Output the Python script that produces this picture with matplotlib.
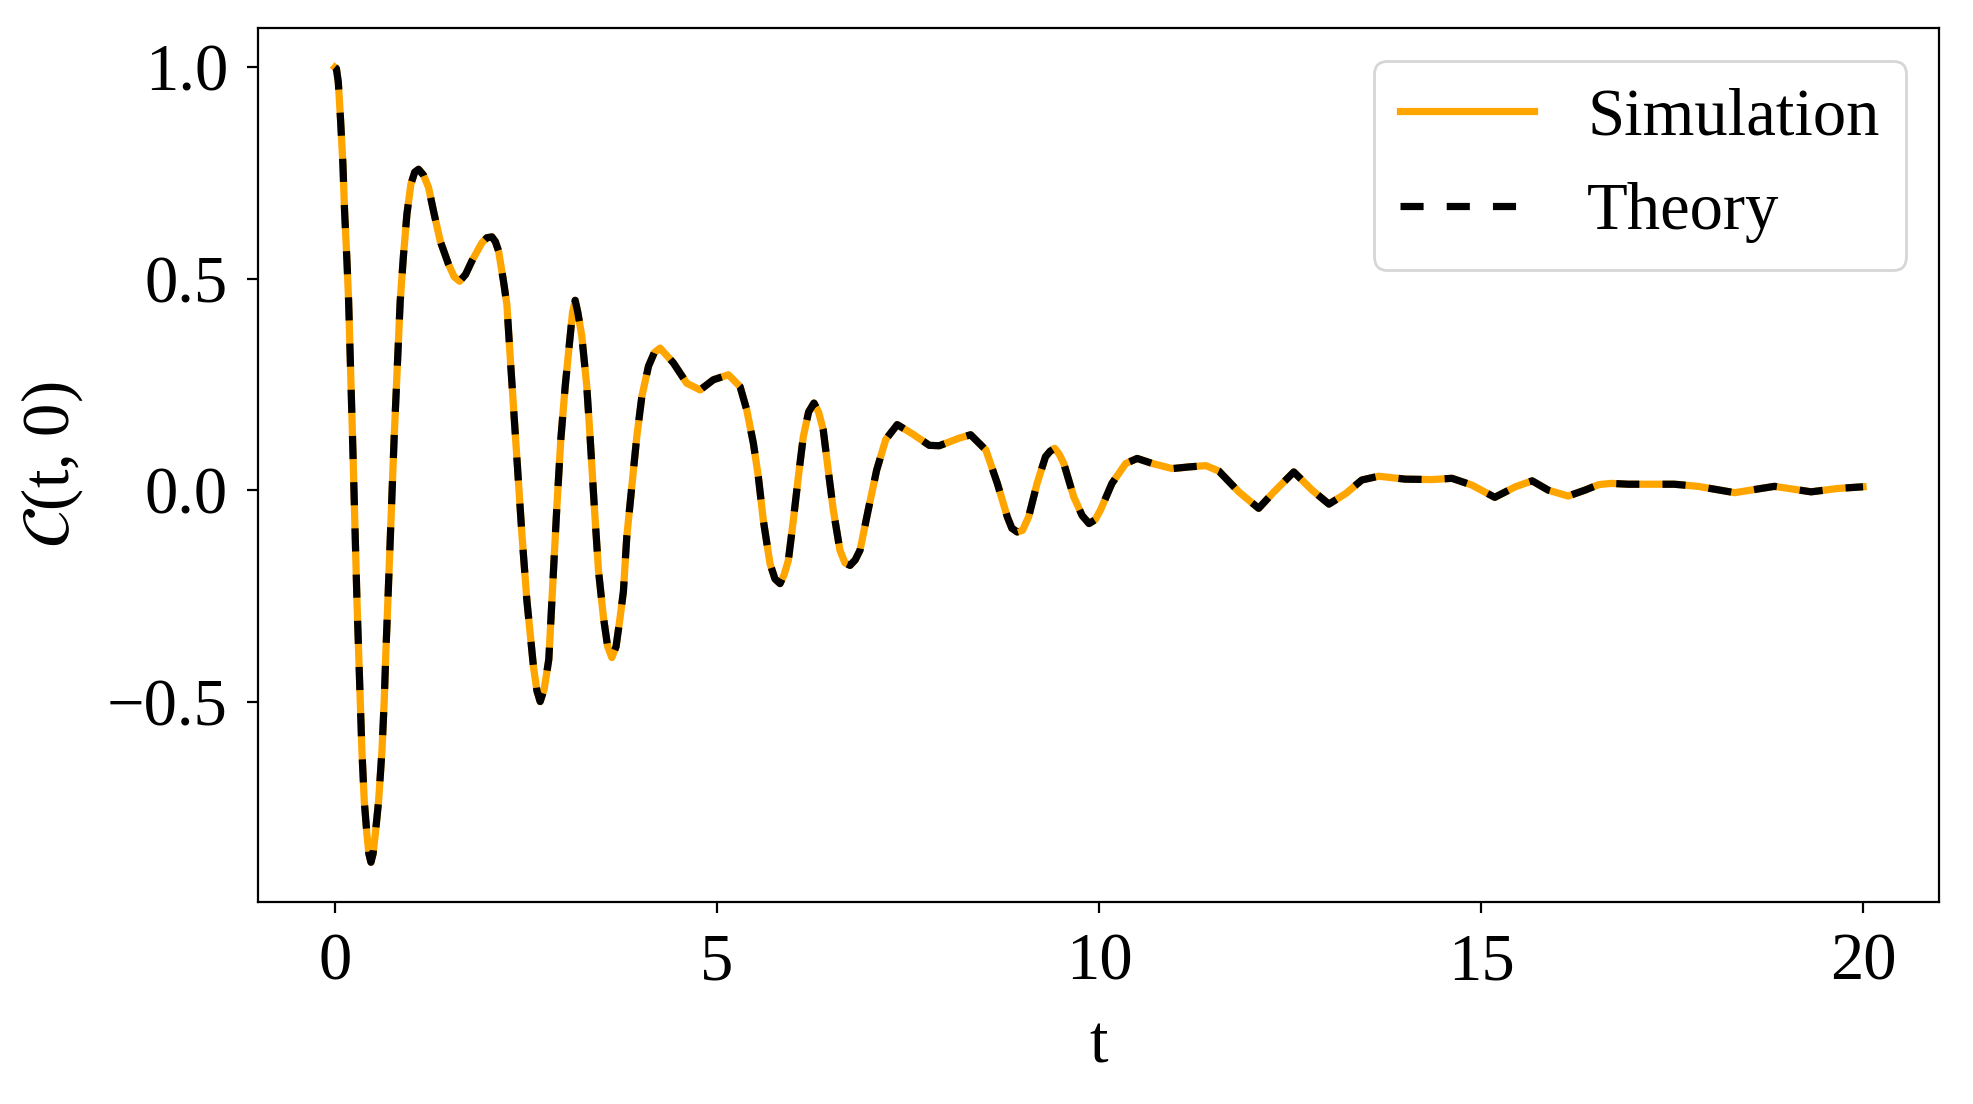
import matplotlib
matplotlib.use("Agg")
import matplotlib.pyplot as plt
import numpy as np

plt.rcParams['font.family'] = ['Liberation Serif', 'DejaVu Serif']
plt.rcParams['mathtext.fontset'] = 'stix'

# values (simulation and theory lie on top of each other)
t = [0.000, 0.020, 0.045, 0.075, 0.105, 0.127, 0.158, 0.180, 0.235, 0.289,
     0.310, 0.332, 0.354, 0.385, 0.420, 0.445, 0.472, 0.500, 0.528, 0.572,
     0.616, 0.646, 0.668, 0.694, 0.775, 0.855, 0.899, 0.943, 0.995, 1.045,
     1.095, 1.160, 1.226, 1.291, 1.379, 1.488, 1.560, 1.632, 1.710, 1.793,
     1.924, 1.990, 2.055, 2.100, 2.142, 2.207, 2.251, 2.300, 2.380, 2.450,
     2.513, 2.556, 2.600, 2.645, 2.687, 2.740, 2.800, 2.853, 2.905, 2.957,
     3.014, 3.079, 3.110, 3.145, 3.180, 3.232, 3.297, 3.340, 3.393, 3.450,
     3.515, 3.570, 3.625, 3.680, 3.733, 3.776, 3.820, 3.886, 3.951, 4.017,
     4.104, 4.180, 4.256, 4.430, 4.605, 4.780, 4.953, 5.150, 5.303, 5.390,
     5.477, 5.542, 5.607, 5.695, 5.760, 5.826, 5.880, 5.935, 6.000, 6.066,
     6.130, 6.200, 6.270, 6.330, 6.392, 6.457, 6.523, 6.610, 6.675, 6.742,
     6.810, 6.873, 6.980, 7.090, 7.210, 7.360, 7.560, 7.780, 7.910, 8.170,
     8.320, 8.520, 8.670, 8.800, 8.860, 8.930, 9.000, 9.080, 9.190, 9.300,
     9.360, 9.420, 9.480, 9.540, 9.670, 9.780, 9.870, 9.950, 10.020, 10.170,
     10.350, 10.500, 10.700, 10.960, 11.180, 11.400, 11.570, 11.830, 12.090,
     12.290, 12.550, 12.790, 13.010, 13.230, 13.440, 13.660, 14.010, 14.360,
     14.620, 14.880, 15.180, 15.450, 15.670, 15.880, 16.140, 16.360, 16.540,
     16.700, 16.930, 17.230, 17.530, 17.840, 18.320, 18.840, 19.320, 19.670,
     20.000]
c_sim = [1.000, 0.997, 0.965, 0.874, 0.771, 0.660, 0.542, 0.447, 0.100, -0.261,
         -0.380, -0.498, -0.617, -0.736, -0.815, -0.860, -0.880, -0.860, -0.815, -0.736,
         -0.617, -0.498, -0.380, -0.261, 0.120, 0.447, 0.558, 0.653, 0.724, 0.752,
         0.759, 0.745, 0.716, 0.660, 0.589, 0.534, 0.505, 0.494, 0.510, 0.542,
         0.585, 0.597, 0.599, 0.588, 0.566, 0.494, 0.439, 0.300, 0.080, -0.110,
         -0.261, -0.340, -0.419, -0.475, -0.500, -0.470, -0.400, -0.220, -0.040, 0.120,
         0.245, 0.364, 0.420, 0.449, 0.420, 0.364, 0.245, 0.126, -0.032, -0.190,
         -0.301, -0.370, -0.396, -0.370, -0.301, -0.240, -0.111, 0.008, 0.126, 0.221,
         0.293, 0.325, 0.336, 0.301, 0.253, 0.237, 0.261, 0.273, 0.245, 0.190,
         0.111, 0.032, -0.071, -0.174, -0.210, -0.221, -0.200, -0.166, -0.071, 0.032,
         0.126, 0.185, 0.206, 0.185, 0.142, 0.047, -0.047, -0.142, -0.172, -0.178,
         -0.165, -0.142, -0.047, 0.047, 0.120, 0.155, 0.133, 0.106, 0.105, 0.123,
         0.131, 0.095, 0.016, -0.063, -0.090, -0.099, -0.095, -0.063, 0.016, 0.079,
         0.092, 0.099, 0.085, 0.063, -0.016, -0.060, -0.079, -0.070, -0.047, 0.016,
         0.063, 0.075, 0.063, 0.051, 0.055, 0.058, 0.045, -0.004, -0.043,
         -0.004, 0.043, 0.000, -0.033, -0.008, 0.024, 0.033, 0.026, 0.025,
         0.028, 0.012, -0.017, 0.008, 0.022, 0.000, -0.014, 0.000, 0.013,
         0.016, 0.014, 0.014, 0.014, 0.009, -0.006, 0.009, -0.004, 0.004,
         0.008]
c_theory = list(c_sim)

fig = plt.figure(figsize=(9.865, 5.52), dpi=200)
ax = fig.add_axes([0.131, 0.183, 0.852, 0.792])

ax.plot(t, c_sim, color='orange', linewidth=2.6, label='Simulation')
ax.plot(t, c_theory, color='black', linewidth=2.6, linestyle=(0, (3.2, 3.2)), label='Theory')

ax.set_xlabel('t', fontsize=24, labelpad=8)
ax.set_ylabel(r'$\mathcal{C}$(t, 0)', fontsize=24, labelpad=8)
ax.set_xticks([0, 5, 10, 15, 20])
ax.set_yticks([-0.5, 0.0, 0.5, 1.0])
ax.tick_params(labelsize=24, length=4, pad=7)
ax.legend(loc='upper right', fontsize=24)

fig.savefig('out.png', dpi=200)
